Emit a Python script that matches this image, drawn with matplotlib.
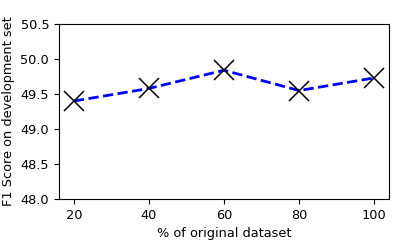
import matplotlib
matplotlib.use('Agg')
import matplotlib.pyplot as plt

# data
pct = [20, 40, 60, 80, 100]
f1 = [49.40, 49.58, 49.84, 49.55, 49.73]

plt.rcParams['font.size'] = 9.3

fig = plt.figure(figsize=(3.93, 2.43), dpi=100)
ax = fig.add_axes([0.150, 0.181, 0.840, 0.720])
ax.plot(pct, f1, color='blue', linestyle='--', linewidth=2)
ax.plot(pct, f1, linestyle='none', marker='x', color='black',
        markersize=14.5, markeredgewidth=1.1)
ax.set_ylim(48.0, 50.5)
ax.set_yticks([48.0, 48.5, 49.0, 49.5, 50.0, 50.5])
ax.set_xticks(pct)
ax.set_xlabel('% of original dataset')
ax.set_ylabel('F1 Score on development set')
fig.savefig('out.png', dpi=100)
